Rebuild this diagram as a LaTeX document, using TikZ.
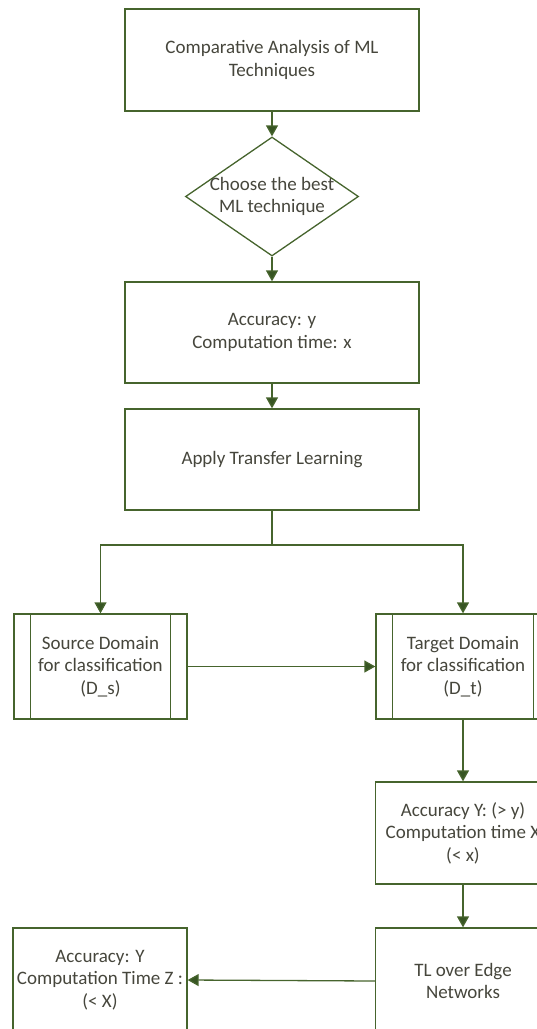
\documentclass[tikz,border=0pt]{standalone}
\usepackage{fontspec}
\setmainfont{Carlito}
\usetikzlibrary{shapes.geometric,arrows.meta}
\definecolor{lineg}{RGB}{70,100,45}
\definecolor{arrowg}{RGB}{55,85,35}
\definecolor{txt}{RGB}{70,70,60}
\tikzset{
  every node/.style={font=\fontsize{19}{22.5}\selectfont, text=txt, align=center},
  boxnode/.style={draw=lineg, line width=1.3pt, rectangle, inner sep=0pt},
  decision/.style={draw=lineg, line width=1.3pt, diamond, aspect=1.45, inner sep=-6pt, minimum width=173pt, minimum height=119pt},
  conn/.style={draw=lineg, line width=1.3pt, -{Triangle[length=11pt,width=12pt,fill=arrowg]}},
  plainline/.style={draw=lineg, line width=1.3pt},
}
\begin{document}
\begin{tikzpicture}[x=1pt,y=-1pt]
\useasboundingbox (0,0) rectangle (537,1029);
\clip (0,0) rectangle (537,1029);
\node[boxnode, minimum width=294pt, minimum height=102pt] (b1) at (272,60) {Comparative Analysis of ML\\Techniques};
\node[decision] (d1) at (272,196.5) {Choose the best\\ML technique};
\node[boxnode, minimum width=294pt, minimum height=101pt] (b2) at (272,332.5) {Accuracy: y\\Computation time: x};
\node[boxnode, minimum width=294pt, minimum height=101pt] (b3) at (272,459.5) {Apply Transfer Learning};
\node[boxnode, minimum width=173pt, minimum height=105pt] (src) at (100.5,666.5) {Source Domain\\for classification\\(D\_s)};
\node[boxnode, minimum width=174pt, minimum height=105pt] (tgt) at (463,666.5) {Target Domain\\for classification\\(D\_t)};
\node[boxnode, minimum width=175pt, minimum height=102pt] (acc) at (463,833) {Accuracy Y: (> y)\\Computation time X\\(< x)};
\node[boxnode, minimum width=175pt, minimum height=106pt] (tl) at (463,981) {TL over Edge\\Networks};
\node[boxnode, minimum width=174pt, minimum height=104pt] (fin) at (100,980) {Accuracy: Y\\Computation Time Z :\\(< X)};
% inner lines of predefined-process boxes
\draw[plainline] ([xshift=17pt]src.north west) -- ([xshift=17pt]src.south west);
\draw[plainline] ([xshift=-17pt]src.north east) -- ([xshift=-17pt]src.south east);
\draw[plainline] ([xshift=17pt]tgt.north west) -- ([xshift=17pt]tgt.south west);
\draw[plainline] ([xshift=-17pt]tgt.north east) -- ([xshift=-17pt]tgt.south east);
% connectors
\draw[conn] (b1.south) -- (d1.north);
\draw[conn] (d1.south) -- (b2.north);
\draw[conn] (b2.south) -- (b3.north);
\coordinate (split) at (272,545);
\draw[plainline] (b3.south) -- (split);
\draw[conn] (split) -| (src.north);
\draw[conn] (split) -| (tgt.north);
\draw[conn] (src.east) -- (tgt.west);
\draw[conn] (tgt.south) -- (acc.north);
\draw[conn] (acc.south) -- (tl.north);
\draw[conn] (tl.west) -- (fin.east);
\end{tikzpicture}
\end{document}
